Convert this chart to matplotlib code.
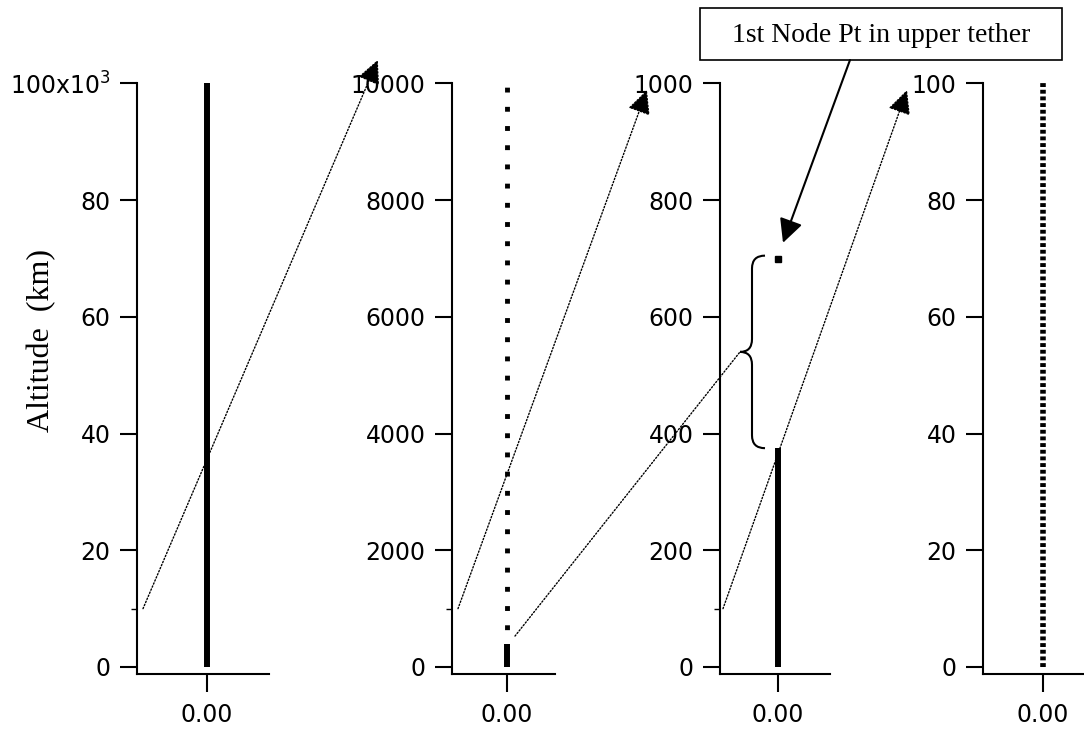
import numpy as np
import matplotlib
matplotlib.use('Agg')
import matplotlib.pyplot as plt
from matplotlib.patches import ConnectionPatch, Rectangle, PathPatch
from matplotlib.path import Path

# altitude ranges of each zoom panel (km)
ranges = [100000, 10000, 1000, 100]
yticks = [[0, 20000, 40000, 60000, 80000, 100000],
          [0, 2000, 4000, 6000, 8000, 10000],
          [0, 200, 400, 600, 800, 1000],
          [0, 20, 40, 60, 80, 100]]
ytick_labels = [['0', '20', '40', '60', '80', r'100x10$^3$'],
                ['0', '2000', '4000', '6000', '8000', '10000'],
                ['0', '200', '400', '600', '800', '1000'],
                ['0', '20', '40', '60', '80', '100']]
zoom_marks = [10000, 1000, 100]   # lower part shown in the next panel

# tether segments (altitude, km)
p1_solid = [0, 100000]
p2_solid = [0, 400]
p2_dotted = [400, 10000]
p3_solid = [0, 375]
p3_node = 700          # 1st node point in upper tether
p3_gap = [375, 705]
p4_dotted = [0, 100]

W, H = 1084, 731
fig = plt.figure(figsize=(W / 100, H / 100), dpi=100)

bottom = (H - 673.7) / H
height = 590.2 / H
lefts = [137, 452, 720, 983]
widths = [132, 103, 110, 120]
xlims = [(-70, 62), (-55, 48), (-58, 52), (-60, 60)]

axes = []
for i in range(4):
    ax = fig.add_axes([lefts[i] / W, bottom, widths[i] / W, height])
    ax.set_facecolor('none')
    ax.set_ylim(-0.0115 * ranges[i], ranges[i])
    ax.set_xlim(*xlims[i])
    ax.spines['top'].set_visible(False)
    ax.spines['right'].set_visible(False)
    ax.spines['left'].set_linewidth(1.5)
    ax.spines['bottom'].set_linewidth(1.5)
    ax.set_yticks(yticks[i])
    ax.set_yticklabels(ytick_labels[i])
    ax.set_xticks([0])
    ax.set_xticklabels(['0.00'])
    ax.tick_params(axis='y', length=12, width=1.5, pad=7, labelsize=17)
    ax.tick_params(axis='x', length=13, width=1.5, pad=8, labelsize=17)
    if i < 3:
        ax.set_yticks([zoom_marks[i]], minor=True)
        ax.tick_params(axis='y', which='minor', length=4.5, width=1)
    axes.append(ax)

ax1, ax2, ax3, ax4 = axes

# tether
ax1.plot([0, 0], p1_solid, color='black', lw=4.3, solid_capstyle='butt', zorder=3)
ax2.plot([0, 0], p2_solid, color='black', lw=4.3, solid_capstyle='butt', zorder=3)
ax2.plot([0, 0], p2_dotted, color='black', lw=3.5, linestyle=(1.0, (1.0, 2.95)), zorder=3)
ax3.plot([0, 0], p3_solid, color='black', lw=4.3, solid_capstyle='butt', zorder=3)
ax3.plot([0], [p3_node], marker='s', color='black', markersize=4.3, zorder=3)
ax4.plot([0, 0], p4_dotted, color='black', lw=4.0, linestyle=(0, (0.7, 0.5)), zorder=3)

# brace over the gap in panel 3
lo, hi = p3_gap
mid = (lo + hi) / 2
r = 22
verts = [(-13, hi), (-26, hi), (-26, hi - r), (-26, mid + r), (-26, mid), (-38, mid),
         (-26, mid), (-26, mid - r), (-26, lo + r), (-26, lo), (-13, lo)]
codes = [Path.MOVETO, Path.CURVE3, Path.CURVE3, Path.LINETO, Path.CURVE3, Path.CURVE3,
         Path.CURVE3, Path.CURVE3, Path.LINETO, Path.CURVE3, Path.CURVE3]
ax3.add_patch(PathPatch(Path(verts, codes), fill=False, lw=1.5, color='black', clip_on=False))

# zoom connector lines
dot = (0, (1, 1.4))


def connect(axA, xyA, axB, xyB, coordsB, arrow=True):
    con = ConnectionPatch(xyA=xyA, coordsA='data', axesA=axA,
                          xyB=xyB, coordsB=coordsB, axesB=axB,
                          arrowstyle='-|>,head_length=0.62,head_width=0.3' if arrow else '-',
                          mutation_scale=24, lw=1.0, linestyle=dot, color='black',
                          shrinkA=0, shrinkB=0)
    axA.add_artist(con)
    con.set_clip_on(False)
    con.set_zorder(1)


connect(ax1, (-64, zoom_marks[0]), ax2, (-0.72, 1.04), ax2.transAxes)
connect(ax2, (-49, zoom_marks[1]), ax3, (-0.664, 0.989), ax3.transAxes)
connect(ax2, (8, 530), ax3, (-38, mid), 'data', arrow=False)
connect(ax3, (-55, zoom_marks[2]), ax4, (-0.633, 0.989), ax4.transAxes)

# annotation
fig.add_artist(Rectangle((700 / W, 1 - 60 / H), 362 / W, 52 / H, transform=fig.transFigure,
                         fill=False, lw=1.2, edgecolor='black'))
fig.text(881 / W, 1 - 35 / H, '1st Node Pt in upper tether', ha='center', va='center',
         fontsize=20, family='Liberation Serif')
ax3.annotate('', xy=(5, 727), xycoords='data',
             xytext=(850 / W, 1 - 60 / H), textcoords='figure fraction',
             arrowprops=dict(arrowstyle='-|>,head_length=0.6,head_width=0.3',
                             mutation_scale=24, lw=1.5, color='black',
                             shrinkA=0, shrinkB=0),
             annotation_clip=False)

fig.text(42 / W, 1 - 341 / H, 'Altitude  (km)', rotation=90, ha='center', va='center',
         fontsize=23, family='Liberation Serif')

fig.savefig('out.png', dpi=100)
